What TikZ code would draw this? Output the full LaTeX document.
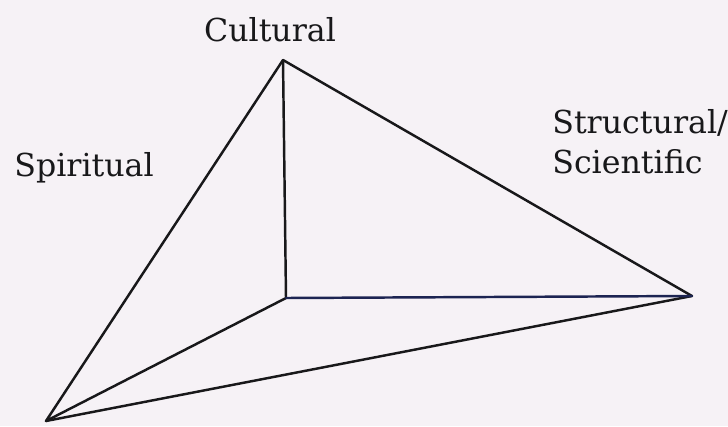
\documentclass[tikz,border=0pt]{standalone}
\usepackage{fontspec}
\setmainfont{DejaVu Serif}
\definecolor{paper}{RGB}{246,242,246}
\definecolor{inkdark}{RGB}{24,24,26}
\definecolor{inknavy}{RGB}{28,36,82}

\begin{document}
\begin{tikzpicture}[x=0.2mm,y=-0.2mm,
 every node/.style={font=\fontsize{18}{22.7}\selectfont,text=inkdark,inner sep=0pt},
 rib/.style={draw=inkdark,line width=1.4pt,line join=round,line cap=round}]
\fill[paper] (0,0) rectangle (728,426);
\useasboundingbox (0,0) rectangle (728,426);
\coordinate (top) at (283,60);
\coordinate (mid) at (286,298);
\coordinate (rgt) at (692,296);
\coordinate (btm) at (46,421);
\node[anchor=base] (cult) at (270,41) {Cultural};
\node[anchor=base west] (spir) at (14,176) {Spiritual};
\node[anchor=base west,align=left] (stru) at (552,173) {Structural/\\Scientific};
\draw[rib] (top)--(rgt)--(btm)--cycle;
\draw[rib] (top)--(mid)--(btm);
\draw[rib,draw=inknavy] (mid)--(rgt);
\end{tikzpicture}
\end{document}
